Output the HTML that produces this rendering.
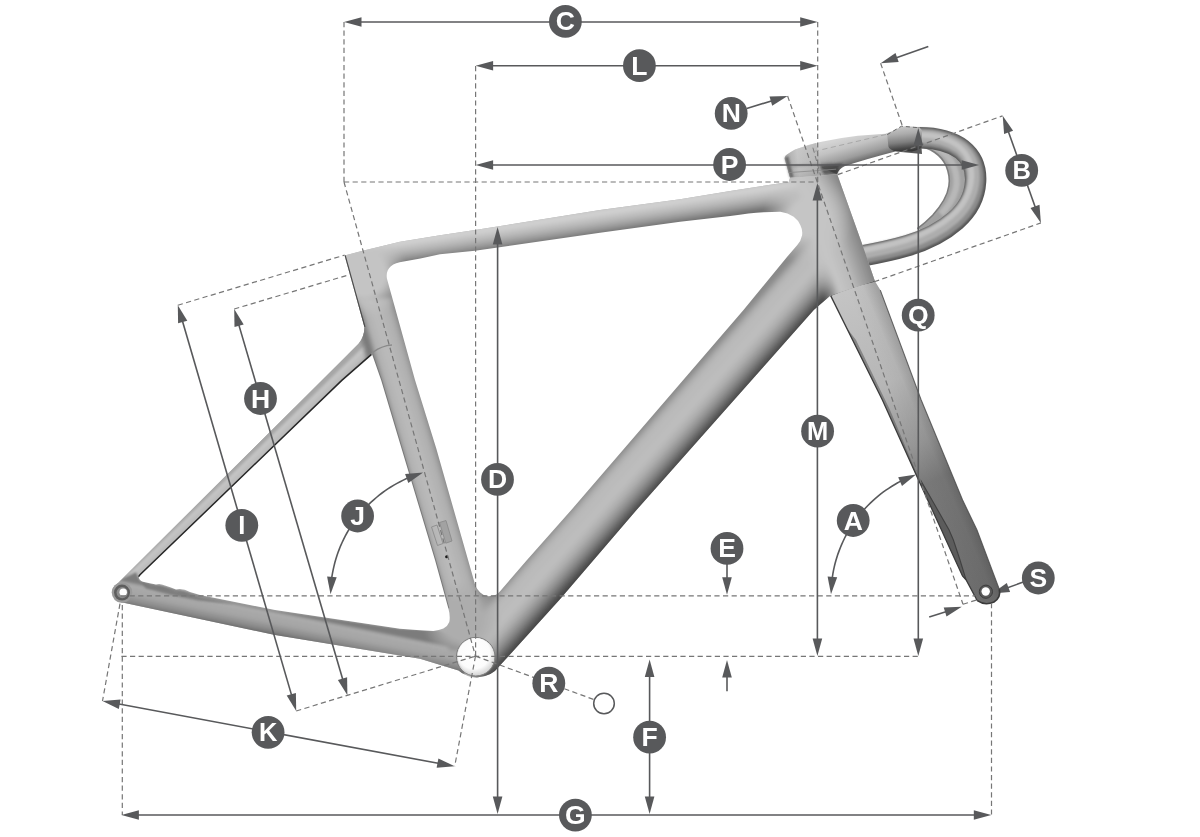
<!DOCTYPE html>
<html><head><meta charset="utf-8"><title>Frame geometry</title>
<style>
html,body{margin:0;padding:0;background:#fff;}
body{width:1200px;height:837px;overflow:hidden;font-family:"Liberation Sans",sans-serif;}
svg{display:block;will-change:transform;}
svg text{font-family:"Liberation Sans",sans-serif;font-weight:bold;}
</style></head><body>
<svg width="1200" height="837" viewBox="0 0 1200 837">
<rect width="1200" height="837" fill="#fff"/>
<defs>
  <filter id="soft" x="-10%" y="-10%" width="120%" height="120%"><feGaussianBlur stdDeviation="2.2"/></filter>
  <filter id="soft1" x="-20%" y="-20%" width="140%" height="140%"><feGaussianBlur stdDeviation="1.1"/></filter>
  <linearGradient id="gTop" gradientUnits="userSpaceOnUse" x1="600" y1="209.5" x2="603.5" y2="233">
    <stop offset="0" stop-color="#bdbdbd"/><stop offset="0.07" stop-color="#d8d8d8"/>
    <stop offset="0.30" stop-color="#c8c8c8"/><stop offset="0.55" stop-color="#b4b4b4"/><stop offset="0.80" stop-color="#969696"/><stop offset="0.95" stop-color="#7e7e7e"/><stop offset="1" stop-color="#6e6e6e"/>
  </linearGradient>
  <linearGradient id="gDown" gradientUnits="userSpaceOnUse" x1="663.5" y1="405" x2="702.5" y2="439.5">
    <stop offset="0" stop-color="#8a8a8a"/><stop offset="0.06" stop-color="#a8a8a8"/>
    <stop offset="0.16" stop-color="#b9b9b9"/><stop offset="0.45" stop-color="#bebebe"/>
    <stop offset="0.60" stop-color="#adadad"/><stop offset="0.75" stop-color="#8a8a8a"/>
    <stop offset="0.88" stop-color="#5e5e5e"/><stop offset="0.97" stop-color="#404040"/><stop offset="1" stop-color="#4a4a4a"/>
  </linearGradient>
  <linearGradient id="gSeat" gradientUnits="userSpaceOnUse" x1="396" y1="430" x2="428.6" y2="420.4">
    <stop offset="0" stop-color="#7a7a7a"/><stop offset="0.07" stop-color="#b0b0b0"/>
    <stop offset="0.40" stop-color="#bbbbbb"/><stop offset="0.80" stop-color="#b0b0b0"/><stop offset="0.95" stop-color="#9a9a9a"/><stop offset="1" stop-color="#808080"/>
  </linearGradient>
  <linearGradient id="gSS" gradientUnits="userSpaceOnUse" x1="206.5" y1="496.6" x2="215.6" y2="506">
    <stop offset="0" stop-color="#a6a6a6"/><stop offset="0.22" stop-color="#c6c6c6"/>
    <stop offset="0.78" stop-color="#b8b8b8"/><stop offset="1" stop-color="#7a7a7a"/>
  </linearGradient>
  <linearGradient id="gCS" gradientUnits="userSpaceOnUse" x1="275" y1="610" x2="270" y2="635">
    <stop offset="0" stop-color="#7c7c7c"/><stop offset="0.14" stop-color="#ababab"/>
    <stop offset="0.50" stop-color="#a4a4a4"/><stop offset="0.80" stop-color="#888888"/><stop offset="1" stop-color="#666666"/>
  </linearGradient>
  <linearGradient id="gHead" gradientUnits="userSpaceOnUse" x1="803" y1="241" x2="860" y2="221.5">
    <stop offset="0" stop-color="#c4c4c4" stop-opacity="0"/><stop offset="0.30" stop-color="#c6c6c6" stop-opacity="1"/>
    <stop offset="0.55" stop-color="#bababa"/><stop offset="0.82" stop-color="#929292"/><stop offset="1" stop-color="#787878"/>
  </linearGradient>
  <linearGradient id="gFork" gradientUnits="userSpaceOnUse" x1="850" y1="290" x2="990" y2="595">
    <stop offset="0" stop-color="#c4c4c4"/><stop offset="0.30" stop-color="#b6b6b6"/>
    <stop offset="0.50" stop-color="#969696"/><stop offset="0.62" stop-color="#787878"/><stop offset="1" stop-color="#6c6c6c"/>
  </linearGradient>
  <linearGradient id="gForkX" gradientUnits="userSpaceOnUse" x1="872" y1="350" x2="905" y2="336">
    <stop offset="0" stop-color="#000" stop-opacity="0"/><stop offset="0.45" stop-color="#000" stop-opacity="0.03"/><stop offset="1" stop-color="#000" stop-opacity="0.24"/>
  </linearGradient>
  <linearGradient id="gBar" gradientUnits="userSpaceOnUse" x1="858" y1="134" x2="866" y2="162">
    <stop offset="0" stop-color="#d4d4d4"/><stop offset="0.35" stop-color="#c2c2c2"/><stop offset="0.7" stop-color="#9c9c9c"/><stop offset="0.92" stop-color="#6c6c6c"/><stop offset="1" stop-color="#5a5a5a"/>
  </linearGradient>
  <linearGradient id="gCap" gradientUnits="userSpaceOnUse" x1="785" y1="165" x2="838" y2="160">
    <stop offset="0" stop-color="#9a9a9a"/><stop offset="0.25" stop-color="#c4c4c4"/><stop offset="0.8" stop-color="#b0b0b0"/><stop offset="1" stop-color="#888"/>
  </linearGradient>
  <linearGradient id="gHood" gradientUnits="userSpaceOnUse" x1="903" y1="126" x2="906" y2="152">
    <stop offset="0" stop-color="#c8c8c8"/><stop offset="0.3" stop-color="#acacac"/><stop offset="0.62" stop-color="#7e7e7e"/><stop offset="0.85" stop-color="#484848"/><stop offset="1" stop-color="#323232"/>
  </linearGradient>
  <radialGradient id="gDrop" gradientUnits="userSpaceOnUse" cx="903" cy="198" r="83">
    <stop offset="0.50" stop-color="#4e4e4e"/><stop offset="0.64" stop-color="#6c6c6c"/><stop offset="0.72" stop-color="#a6a6a6"/>
    <stop offset="0.88" stop-color="#bcbcbc"/><stop offset="1" stop-color="#8e8e8e"/>
  </radialGradient>
  <radialGradient id="gBB" gradientUnits="userSpaceOnUse" cx="474" cy="653" r="21">
    <stop offset="0" stop-color="#ffffff"/><stop offset="0.75" stop-color="#fcfcfc"/><stop offset="1" stop-color="#dedede"/>
  </radialGradient>
  <radialGradient id="bCluster" gradientUnits="userSpaceOnUse" cx="364" cy="274" r="44">
    <stop offset="0" stop-color="#c4c4c4" stop-opacity="1"/><stop offset="0.5" stop-color="#c4c4c4" stop-opacity="1"/><stop offset="1" stop-color="#c4c4c4" stop-opacity="0"/>
  </radialGradient>
  <radialGradient id="bHead" gradientUnits="userSpaceOnUse" cx="808" cy="218" r="46">
    <stop offset="0" stop-color="#c5c5c5" stop-opacity="1"/><stop offset="0.4" stop-color="#c5c5c5" stop-opacity="1"/><stop offset="1" stop-color="#c5c5c5" stop-opacity="0"/>
  </radialGradient>
  <radialGradient id="bBB" gradientUnits="userSpaceOnUse" cx="462" cy="620" r="40">
    <stop offset="0" stop-color="#adadad" stop-opacity="1"/><stop offset="0.5" stop-color="#adadad" stop-opacity="1"/><stop offset="1" stop-color="#adadad" stop-opacity="0"/>
  </radialGradient>
  <clipPath id="sil">
    <path d="M344.6,255.4 L362.7,250.8 L400,241.8 L440,235.2 L475,230 L600,210 L680,199.3 L730.2,190.9 L788.7,182 L790.1,177.7 L837.2,174.2 L861.4,241.9 L874.8,280.8 L830.5,295.4 L813.8,310 L636.5,510 L560,599.3 L498.6,667 Q492,676.5 476.9,677.4 Q466,677 458.5,670.4 L420,658.7 L275,635 L122.5,602.5 L113,588 L341.8,360.5 L358.5,343.8 Q364.5,337 364.4,327 Z"/>
  </clipPath>
</defs>
<g id="frame">
  <!-- handlebar drop -->
  <g fill="none" stroke-linecap="butt" stroke-linejoin="round">
    <!-- far-side tube (crescent) -->
    <path d="M917,146.3 C930,147 941,155 946,165.5 C949.5,174 950,180 948.9,186 C947.5,196 940,207 932.7,215.2 C927,221 921,226 917.4,228.6 L935,238 L960,215 L972,185 L965,155 L940,140 L917,138 Z" fill="#a2a2a2" stroke="none"/>
    <g filter="url(#soft1)">
      <path d="M921,143.5 C936,145 948,153.5 953.6,166 C957,175 957.2,184 955.5,190 C953,199 947,208 941,214" stroke="#b8b8b8" stroke-width="6.5"/>
    </g>
    <path d="M917,146.3 C930,147 941,155 946,165.5 C949.5,174 950,180 948.9,186 C947.5,196 940,207 932.7,215.2 C927,221 921,226 917.4,228.6" stroke="#7c7c7c" stroke-width="1.6"/>
    <!-- near-side tube -->
    <path d="M915,137.8 C934,137.2 950,140.5 962,149.5 C972,157.5 976.3,169 975.6,181.5 C974.8,196 967.5,210 955.5,220.5 C943.5,231 928,239.5 908,245.5 C893,250 876,253.5 858,256.8" stroke="#565656" stroke-width="21.4"/>
    <g filter="url(#soft1)">
      <path d="M915,137.3 C934,136.7 949.6,140 961.5,149 C971.3,157 975.5,168.5 974.8,181 C974,195.3 966.8,209.2 954.8,219.7 C942.9,230.2 927.5,238.7 907.5,244.7 C892.5,249.2 875.6,252.7 857.6,256" stroke="#8c8c8c" stroke-width="18"/>
      <path d="M915,136.2 C934,135.6 948.8,139 960.4,147.9 C969.9,155.8 974,167.2 973.3,179.7 C972.5,193.8 965.4,207.4 953.6,217.8 C941.8,228.2 926.5,236.7 906.6,242.7 C891.7,247.2 874.9,250.7 856.9,254" stroke="#adadad" stroke-width="12.5"/>
      <path d="M915,134.8 C934,134.2 947.8,138 959.1,146.6 C968.2,154.3 972.1,165.7 971.4,178.1 C970.6,192 963.7,205.3 952.1,215.5 C940.4,225.8 925.2,234.3 905.5,240.3 C890.7,244.8 874,248.3 856,251.6" stroke="#c2c2c2" stroke-width="5.5"/>
    </g>
  </g>
  <!-- stem / tops -->
  <path d="M790.1,177.7 L785.2,160.5 Q783.6,156.6 787,154.4 Q791,151.5 795.1,149.5 Q807,144.5 820.2,141.9 Q838,138 857.8,135.7 L885.4,133.8 Q893,131 900.4,127.5 L920,127.5 L922,153.9 L895.4,151.4 Q866,159 845,166 Q839,168.5 837.2,174.2 Z" fill="url(#gBar)"/>
  <path d="M790.1,177.7 L785.2,160.5 Q783.6,156.6 787,154.4 L795.1,149.5 Q806,146 816,143 L822,168 L837.2,174.2 Z" fill="url(#gCap)" opacity="0.8"/>
  <!-- stem shading details -->
  <g filter="url(#soft1)">
    <path d="M784.6,157.5 L790.1,177.9 L793.6,177.6 L788.4,156.2 Z" fill="#404040" opacity="0.6"/>
    <path d="M819,165.5 Q830,163 843,163.5 L838.5,168 L837.4,174 L824,174.6 Z" fill="#2e2e2e" opacity="0.6"/>
    <path d="M789,166.4 Q812,164.6 833,163.2" stroke="#7a7a7a" stroke-width="1.2" fill="none" opacity="0.7"/>
  </g>
  <!-- hood clamp (darker collar) -->
  <path d="M887.2,134.6 Q893,130.5 901.5,126.4 Q909,125.6 917.6,127.6 Q921.5,128.5 922,131 L921.6,147.5 Q918,150.6 912,151.4 L894,151 Q889.5,149.6 888.4,146.6 Z" fill="url(#gHood)"/>
  <!-- spacer line under stem -->
  <path d="M788.6,172.6 Q812,171 836.2,169.2" stroke="#8a8a8a" stroke-width="1" fill="none" opacity="0.8"/>
  <line x1="1024.0" y1="581.8" x2="1001.4" y2="590.0" stroke="#58595b" stroke-width="1.6"/>
<polygon points="992.0,593.4 1006.8,582.9 1010.1,591.9" fill="#58595b"/>
  <!-- fork -->
  <path id="forkS" d="M830.5,295.4 Q852,286 874.8,281 L880.3,290.1 L921.2,400 L962.6,500 L977,530 L999.3,589.3 Q1001.2,597.6 994,602 Q985,606 977.3,600.7 L966,579.7 L962.5,575.9 L946,540 L941.5,530 L927.7,500 L915.8,474 L882.4,400 Z" fill="url(#gFork)"/>
  <path d="M830.5,295.4 Q852,286 874.8,281 L880.3,290.1 L921.2,400 L962.6,500 L977,530 L999.3,589.3 Q1001.2,597.6 994,602 Q985,606 977.3,600.7 L966,579.7 L962.5,575.9 L946,540 L941.5,530 L927.7,500 L915.8,474 L882.4,400 Z" fill="url(#gForkX)"/>
  <!-- far-side blade strip -->
  <path d="M915.8,474 L927.7,500 L941.5,530 L946,540 L955.2,560 L962.5,575.9 L966,579.7 L960,560 L953.4,540 L949.1,530 L932,500 L920.5,480 Z" fill="#5c5c5c"/>
  <!-- left-edge shadow band in upper fork -->
  <path d="M846,327 L882.4,400 L915.8,474 L920.5,480 L932,500 L922,486 L890,410 L856,340 Z" fill="#5a5a5a" opacity="0.55"/>
  <!-- outlines -->
  <path d="M830.5,295.4 L882.4,400 L915.8,474 L927.7,500 L941.5,530 L946,540 L962.5,575.9 L966,579.7 L977.3,600.7" stroke="#3c3c3c" stroke-width="1.3" fill="none"/>
  <path d="M920.5,480 L932,500 L949.1,530 L953.4,540 L960,560 L966,579.7" stroke="#3a3a3a" stroke-width="1.1" fill="none" opacity="0.85"/>
  <path d="M880.3,290.1 L921.2,400 L962.6,500 L977,530 L999.3,589.3" stroke="#4a4a4a" stroke-width="1.1" fill="none" opacity="0.8"/>
  <path d="M830.5,295.4 Q852,286 874.8,281" stroke="#4a4a4a" stroke-width="1.3" fill="none"/>
  <path d="M977.3,600.7 Q985,606 994,602 Q1001.2,597.6 999.3,589.3" stroke="#3a3a3a" stroke-width="1.6" fill="none"/>
  <circle cx="985.9" cy="591.7" r="6.6" fill="#5a5a5a" stroke="#3c3c3c" stroke-width="1"/>
  <circle cx="985.7" cy="591.5" r="4.2" fill="#fff"/>
  <!-- main frame: clipped to silhouette -->
  <g clip-path="url(#sil)">
    <rect x="100" y="160" width="800" height="540" fill="#b6b6b6"/>
    <g filter="url(#soft1)">
      <!-- seat stay -->
      <path d="M372,318 L104,583 L104,610 L139.4,575 L371.9,353.8 L392,345.4 L384,318 Z" fill="url(#gSS)"/>
      <!-- chain stay -->
      <path d="M136,572 L140,581 L200,595 L275,610 L400,628.8 L437.9,630.2 L474,640 L462,682 L420,668.7 L275,643 L100,606 L100,590 Z" fill="url(#gCS)"/>
    </g>
    <g filter="url(#soft)">
      <!-- seat tube -->
      <path d="M334,250 L358.4,329 L365.9,355.8 L375.1,382 L390,432 L429,562 L442.4,610.5 L449,650 L490,654 L496,600 L481.2,583 L435.1,428 L418,378 L392.9,276.5 L398,244 L360,240 Z" fill="url(#gSeat)"/>
      <!-- down tube -->
      <path d="M800,206 L781,252 L737.5,305 L565.3,505 L494.7,585.5 L470,616 L470,664 L474,690 L500,690 L566,604.3 L642.5,515 L819.8,315 L836.5,300.4 L866,276 Z" fill="url(#gDown)"/>
      <!-- top tube -->
      <path d="M338,248 L362.7,242.8 L400,233.8 L440,227.2 L475,222 L600,202 L680,191.3 L730.2,182.9 L788.7,174 L816,186 L810,244 L780.3,222.8 L730.2,226.2 L680,232 L600,243.5 L475,261.7 L440,265.2 L420.4,269.4 L392,298 L350,300 Z" fill="url(#gTop)"/>
      <!-- head tube overlay (alpha on left) -->
      <path d="M792,170 L845,166 L886,284 L826,304 L798,268 L804,212 Z" fill="url(#gHead)"/>
      <!-- blends -->
      <circle cx="364" cy="274" r="44" fill="url(#bCluster)"/>
      <circle cx="808" cy="218" r="46" fill="url(#bHead)"/>
      <circle cx="462" cy="620" r="40" fill="url(#bBB)"/>
    </g>
    <!-- crisp dark left edge of seat tube -->
    <path d="M344.6,255.4 L364.4,327" stroke="#4a4a4a" stroke-width="2.2" fill="none"/>
    <path d="M371.9,353.8 L381.1,380 L396,430 L435,560 L448.4,608.5" stroke="#7a7a7a" stroke-width="2" fill="none"/>
    <!-- crease where seat stay wraps onto seat tube -->
    <path d="M371.9,353.8 Q376,348.5 386.9,345.6 L392,345" stroke="#8a8a8a" stroke-width="1.4" fill="none"/>
  </g>
  <!-- dropout -->
  <circle cx="122" cy="592.6" r="10.3" fill="#9a9a9a"/>
  <circle cx="122" cy="592.6" r="8" fill="#5e5e5e"/>
  <circle cx="122.2" cy="592.6" r="5.6" fill="#8c8c8c"/>
  <circle cx="123.2" cy="592.2" r="3.7" fill="#ffffff"/>
  <!-- groove under chain stay top edge near dropout -->
  <g filter="url(#soft1)" opacity="0.8">
    <path d="M140,580.5 L146,584 Q150,585.8 156,586.6 Q160,585.4 165,587.6 Q170,589.4 176,591.6 Q183,590.5 190,594 L200,597 L234,604.2 L198,600.6 L170,594.8 L146,588.6 Z" fill="#747474"/>
  </g>
  <!-- holes (white) -->
  <path d="M475.2,585 L436.2,448.3 L415,380 L386.9,278.5 C385.5,269 391,263 403.7,261.4 L420.4,258.4 L440,254.2 L475,250.7 L600,232.8 L680,221.8 L730.2,216 Q750,213 763.6,212.2 L780.3,211.8 Q788,213 793.7,216.8 Q798.5,220.5 800.4,225.2 Q802.8,230 802.1,235.2 Q801,241 797.1,245.3 L787,257 L743.5,310 L571.3,510 L527,560 L500.3,590.9 Q497.5,594.5 495.3,595.1 Q490.5,596.5 486.9,596 Q483,595.3 480.2,592.6 Q477,589.5 475.2,585 Z" fill="#fff"/>
  <path d="M371.9,353.8 L381.1,380 L396,430 L435,560 L448.4,608.5 Q450.5,616 449.3,621.9 Q447.5,626.5 443.4,628.6 Q439,630.6 433.4,631 L420,630.2 L400,628.8 L275,610 L200,595 L190,592 Q183,588 176,589.5 Q170,587 165,585.5 Q160,583 156,584.5 Q150,583.5 143,581.8 Q137.5,579.5 139.4,575 L341.8,380 Z" fill="#fff"/>
  <!-- seat stay lower dark edge -->
  <path d="M138.6,576.6 L140,574.8 L341.8,380.4 L371.5,354.4" stroke="#262626" stroke-width="1.5" fill="none"/>
  <!-- BB -->
  <circle cx="475.7" cy="656.7" r="19.3" fill="#d8d8d8" stroke="#7e7e7e" stroke-width="1"/>
  <circle cx="475.7" cy="656.1" r="18.1" fill="url(#gBB)"/>
  <!-- bottle boss detail -->
  <path d="M431.5,527 L437,525 L443,543.5 L437.5,545.5 Z" fill="none" stroke="#8c8c8c" stroke-width="0.9"/>
  <path d="M439.5,522.5 L446,520.5 L452,541 L445.8,543.2 Z" fill="#a2a2a2" stroke="#868686" stroke-width="0.8"/>
  <circle cx="446.6" cy="556.7" r="1.5" fill="#1a1a1a"/>
</g>

<g id="dims">
<line x1="344.0" y1="22.0" x2="344.0" y2="182.0" stroke="#767676" stroke-width="1.2" stroke-dasharray="5.2 3.4"/>
<line x1="344.0" y1="182.0" x2="818.0" y2="182.0" stroke="#767676" stroke-width="1.2" stroke-dasharray="5.2 3.4"/>
<line x1="475.6" y1="66.0" x2="475.6" y2="656.0" stroke="#767676" stroke-width="1.2" stroke-dasharray="5.2 3.4"/>
<line x1="817.7" y1="22.0" x2="817.7" y2="182.0" stroke="#767676" stroke-width="1.2" stroke-dasharray="5.2 3.4"/>
<line x1="344.0" y1="182.0" x2="475.5" y2="656.1" stroke="#767676" stroke-width="1.2" stroke-dasharray="5.2 3.4"/>
<line x1="177.8" y1="305.2" x2="344.6" y2="255.1" stroke="#767676" stroke-width="1.2" stroke-dasharray="5.2 3.4"/>
<line x1="234.2" y1="309.0" x2="349.6" y2="274.6" stroke="#767676" stroke-width="1.2" stroke-dasharray="5.2 3.4"/>
<line x1="296.2" y1="711.0" x2="475.5" y2="656.1" stroke="#767676" stroke-width="1.2" stroke-dasharray="5.2 3.4"/>
<line x1="121.0" y1="595.8" x2="975.0" y2="595.8" stroke="#767676" stroke-width="1.2" stroke-dasharray="5.2 3.4"/>
<line x1="121.4" y1="656.3" x2="918.4" y2="656.3" stroke="#767676" stroke-width="1.2" stroke-dasharray="5.2 3.4"/>
<line x1="122.3" y1="605.0" x2="122.3" y2="815.0" stroke="#767676" stroke-width="1.2" stroke-dasharray="5.2 3.4"/>
<line x1="120.0" y1="603.7" x2="102.5" y2="701.0" stroke="#767676" stroke-width="1.2" stroke-dasharray="5.2 3.4"/>
<line x1="475.5" y1="656.1" x2="454.7" y2="766.2" stroke="#767676" stroke-width="1.2" stroke-dasharray="5.2 3.4"/>
<line x1="475.5" y1="656.1" x2="594.0" y2="699.6" stroke="#767676" stroke-width="1.2" stroke-dasharray="5.2 3.4"/>
<line x1="991.5" y1="603.0" x2="991.5" y2="815.0" stroke="#767676" stroke-width="1.2" stroke-dasharray="5.2 3.4"/>
<line x1="787.6" y1="96.0" x2="963.0" y2="604.3" stroke="#767676" stroke-width="1.2" stroke-dasharray="5.2 3.4"/>
<line x1="963.0" y1="604.3" x2="977.0" y2="599.8" stroke="#767676" stroke-width="1.2" stroke-dasharray="5.2 3.4"/>
<line x1="837.7" y1="174.6" x2="1002.5" y2="115.9" stroke="#767676" stroke-width="1.2" stroke-dasharray="5.2 3.4"/>
<line x1="874.2" y1="281.8" x2="1040.9" y2="222.9" stroke="#767676" stroke-width="1.2" stroke-dasharray="5.2 3.4"/>
<line x1="880.6" y1="63.2" x2="902.2" y2="125.4" stroke="#767676" stroke-width="1.2" stroke-dasharray="5.2 3.4"/>
<line x1="812.9" y1="147.7" x2="820.6" y2="175.5" stroke="#767676" stroke-width="0.9" stroke-dasharray="5.2 3.4"/>
<line x1="814.0" y1="151.5" x2="886.0" y2="134.5" stroke="#9a9a9a" stroke-width="0.7" stroke-dasharray="5.2 3.4"/>
<path d="M887.2,134.6 L901.5,126.2 L917.6,127.6" fill="none" stroke="#666" stroke-width="1" stroke-dasharray="4 3"/>
<line x1="354.0" y1="22.0" x2="807.7" y2="22.0" stroke="#58595b" stroke-width="1.6"/>
<polygon points="344.0,22.0 361.5,17.2 361.5,26.8" fill="#58595b"/>
<polygon points="817.7,22.0 800.2,26.8 800.2,17.2" fill="#58595b"/>
<line x1="485.6" y1="65.7" x2="807.7" y2="65.7" stroke="#58595b" stroke-width="1.6"/>
<polygon points="475.6,65.7 493.1,60.9 493.1,70.5" fill="#58595b"/>
<polygon points="817.7,65.7 800.2,70.5 800.2,60.9" fill="#58595b"/>
<line x1="485.6" y1="165.0" x2="969.2" y2="165.0" stroke="#58595b" stroke-width="1.6"/>
<polygon points="475.6,165.0 493.1,160.2 493.1,169.8" fill="#58595b"/>
<polygon points="979.2,165.0 961.7,169.8 961.7,160.2" fill="#58595b"/>
<line x1="497.6" y1="237.0" x2="497.6" y2="804.0" stroke="#58595b" stroke-width="1.6"/>
<polygon points="497.6,227.0 502.4,244.5 492.8,244.5" fill="#58595b"/>
<polygon points="497.6,814.0 492.8,796.5 502.4,796.5" fill="#58595b"/>
<line x1="817.4" y1="193.0" x2="817.4" y2="646.0" stroke="#58595b" stroke-width="1.6"/>
<polygon points="817.4,183.0 822.2,200.5 812.6,200.5" fill="#58595b"/>
<polygon points="817.4,656.0 812.6,638.5 822.2,638.5" fill="#58595b"/>
<line x1="918.3" y1="138.0" x2="918.3" y2="646.0" stroke="#58595b" stroke-width="1.6"/>
<polygon points="918.3,128.0 923.1,145.5 913.5,145.5" fill="#58595b"/>
<polygon points="918.3,656.0 913.5,638.5 923.1,638.5" fill="#58595b"/>
<line x1="649.6" y1="669.6" x2="649.6" y2="804.0" stroke="#58595b" stroke-width="1.6"/>
<polygon points="649.6,659.6 654.4,677.1 644.8,677.1" fill="#58595b"/>
<polygon points="649.6,814.0 644.8,796.5 654.4,796.5" fill="#58595b"/>
<line x1="131.4" y1="815.0" x2="981.3" y2="815.0" stroke="#58595b" stroke-width="1.6"/>
<polygon points="121.4,815.0 138.9,810.2 138.9,819.8" fill="#58595b"/>
<polygon points="991.3,815.0 973.8,819.8 973.8,810.2" fill="#58595b"/>
<line x1="237.0" y1="318.6" x2="344.6" y2="685.7" stroke="#58595b" stroke-width="1.6"/>
<polygon points="234.2,309.0 243.7,324.4 234.5,327.1" fill="#58595b"/>
<polygon points="347.4,695.3 337.9,679.9 347.1,677.2" fill="#58595b"/>
<line x1="180.6" y1="314.8" x2="293.4" y2="701.4" stroke="#58595b" stroke-width="1.6"/>
<polygon points="177.8,305.2 187.3,320.7 178.1,323.3" fill="#58595b"/>
<polygon points="296.2,711.0 286.7,695.5 295.9,692.9" fill="#58595b"/>
<line x1="112.3" y1="702.8" x2="444.9" y2="764.5" stroke="#58595b" stroke-width="1.6"/>
<polygon points="102.5,701.0 120.6,699.5 118.8,708.9" fill="#58595b"/>
<polygon points="454.7,766.3 436.6,767.8 438.4,758.4" fill="#58595b"/>
<line x1="1006.1" y1="125.2" x2="1037.5" y2="213.5" stroke="#58595b" stroke-width="1.6"/>
<polygon points="1002.7,115.8 1013.1,130.7 1004.1,133.9" fill="#58595b"/>
<polygon points="1040.9,222.9 1030.5,208.0 1039.5,204.8" fill="#58595b"/>
<line x1="727.0" y1="560.0" x2="727.0" y2="584.8" stroke="#58595b" stroke-width="1.6"/>
<polygon points="727.0,594.8 722.2,577.3 731.8,577.3" fill="#58595b"/>
<line x1="727.0" y1="691.2" x2="727.0" y2="670.0" stroke="#58595b" stroke-width="1.6"/>
<polygon points="727.0,660.0 731.8,677.5 722.2,677.5" fill="#58595b"/>
<line x1="746.7" y1="108.4" x2="778.0" y2="99.0" stroke="#58595b" stroke-width="1.6"/>
<polygon points="787.6,96.1 772.2,105.7 769.5,96.5" fill="#58595b"/>
<line x1="928.3" y1="46.4" x2="890.0" y2="59.9" stroke="#58595b" stroke-width="1.6"/>
<polygon points="880.6,63.2 895.5,52.9 898.7,61.9" fill="#58595b"/>
<line x1="929.2" y1="616.9" x2="952.2" y2="609.8" stroke="#58595b" stroke-width="1.6"/>
<polygon points="961.8,606.8 946.5,616.6 943.7,607.4" fill="#58595b"/>
<polyline points="413.2,475.9 409.9,477.2 406.6,478.6 403.3,480.1 400.1,481.7 397.0,483.4 393.9,485.1 390.8,487.0 387.8,488.9 384.9,490.9 382.0,493.0 379.2,495.2 376.4,497.5 373.7,499.8 371.1,502.2 368.5,504.7 366.0,507.2 363.6,509.8 361.2,512.5 358.9,515.3 356.7,518.1 354.6,521.0 352.6,523.9 350.6,526.9 348.7,529.9 346.9,533.0 345.2,536.1 343.6,539.3 342.1,542.5 340.6,545.8 339.3,549.1 338.0,552.5 336.9,555.8 335.8,559.3 334.8,562.7 334.0,566.1 333.2,569.6 332.5,573.1 331.9,576.7 331.5,580.2 331.1,583.8" fill="none" stroke="#58595b" stroke-width="1.6"/>
<polygon points="423.1,472.6 408.3,483.1 405.1,474.0" fill="#58595b"/>
<polygon points="330.5,594.2 327.1,576.4 336.7,577.2" fill="#58595b"/>
<polyline points="906.4,478.5 903.3,479.9 900.3,481.4 897.3,483.0 894.4,484.7 891.5,486.5 888.7,488.3 885.9,490.2 883.1,492.2 880.5,494.2 877.8,496.4 875.2,498.6 872.7,500.8 870.3,503.1 867.9,505.5 865.5,508.0 863.3,510.5 861.1,513.0 858.9,515.7 856.9,518.3 854.9,521.1 852.9,523.8 851.1,526.7 849.3,529.6 847.6,532.5 846.0,535.4 844.4,538.5 843.0,541.5 841.6,544.6 840.3,547.7 839.1,550.9 837.9,554.1 836.9,557.3 835.9,560.5 835.0,563.8 834.2,567.1 833.5,570.4 832.9,573.7 832.4,577.0 831.9,580.4 831.6,583.7" fill="none" stroke="#58595b" stroke-width="1.6"/>
<polygon points="916.1,474.5 902.0,485.9 898.2,477.2" fill="#58595b"/>
<polygon points="831.0,594.2 827.6,576.4 837.2,577.2" fill="#58595b"/>
<circle cx="604" cy="703.5" r="10.3" fill="#fff" stroke="#58595b" stroke-width="1.5"/>
<circle cx="565.4" cy="21.4" r="16.4" fill="#58595b"/><text transform="translate(565.4,30.4) scale(1.04,1)" font-size="25.5" text-anchor="middle" fill="#fff">C</text>
<circle cx="639.4" cy="65.7" r="16.4" fill="#58595b"/><text transform="translate(639.4,74.7) scale(1.04,1)" font-size="25.5" text-anchor="middle" fill="#fff">L</text>
<circle cx="731.2" cy="113.4" r="16.4" fill="#58595b"/><text transform="translate(731.2,122.4) scale(1.04,1)" font-size="25.5" text-anchor="middle" fill="#fff">N</text>
<circle cx="729.6" cy="164.5" r="16.4" fill="#58595b"/><text transform="translate(729.6,173.5) scale(1.04,1)" font-size="25.5" text-anchor="middle" fill="#fff">P</text>
<circle cx="1021.7" cy="170.4" r="16.4" fill="#58595b"/><text transform="translate(1021.7,179.4) scale(1.0,1)" font-size="25.5" text-anchor="middle" fill="#fff">B</text>
<circle cx="918.2" cy="315.2" r="16.4" fill="#58595b"/><text transform="translate(918.2,324.2) scale(1.04,1)" font-size="25.5" text-anchor="middle" fill="#fff">Q</text>
<circle cx="260.5" cy="398.5" r="16.4" fill="#58595b"/><text transform="translate(260.5,407.5) scale(1.04,1)" font-size="25.5" text-anchor="middle" fill="#fff">H</text>
<circle cx="817.6" cy="431.2" r="16.4" fill="#58595b"/><text transform="translate(817.6,440.2) scale(1.0,1)" font-size="25.5" text-anchor="middle" fill="#fff">M</text>
<circle cx="497.5" cy="479.4" r="16.4" fill="#58595b"/><text transform="translate(497.5,488.4) scale(1.04,1)" font-size="25.5" text-anchor="middle" fill="#fff">D</text>
<circle cx="357.6" cy="516.0" r="16.4" fill="#58595b"/><text transform="translate(357.6,525.0) scale(1.04,1)" font-size="25.5" text-anchor="middle" fill="#fff">J</text>
<circle cx="241.8" cy="525.3" r="16.4" fill="#58595b"/><text transform="translate(241.8,534.3) scale(1.0,1)" font-size="25.5" text-anchor="middle" fill="#fff">I</text>
<circle cx="853.2" cy="520.5" r="16.4" fill="#58595b"/><text transform="translate(853.2,529.5) scale(1.04,1)" font-size="25.5" text-anchor="middle" fill="#fff">A</text>
<circle cx="727.0" cy="548.4" r="16.4" fill="#58595b"/><text transform="translate(727.0,557.4) scale(1.04,1)" font-size="25.5" text-anchor="middle" fill="#fff">E</text>
<circle cx="1038.3" cy="578.0" r="16.4" fill="#58595b"/><text transform="translate(1038.3,587.0) scale(1.04,1)" font-size="25.5" text-anchor="middle" fill="#fff">S</text>
<circle cx="548.8" cy="683.2" r="16.4" fill="#58595b"/><text transform="translate(548.8,692.2) scale(1.04,1)" font-size="25.5" text-anchor="middle" fill="#fff">R</text>
<circle cx="268.1" cy="732.3" r="16.4" fill="#58595b"/><text transform="translate(268.1,741.3) scale(1.0,1)" font-size="25.5" text-anchor="middle" fill="#fff">K</text>
<circle cx="649.6" cy="737.2" r="16.4" fill="#58595b"/><text transform="translate(649.6,746.2) scale(1.04,1)" font-size="25.5" text-anchor="middle" fill="#fff">F</text>
<circle cx="575.4" cy="815.1" r="16.4" fill="#58595b"/><text transform="translate(575.4,824.1) scale(1.04,1)" font-size="25.5" text-anchor="middle" fill="#fff">G</text>
</g>
</svg>
</body></html>
